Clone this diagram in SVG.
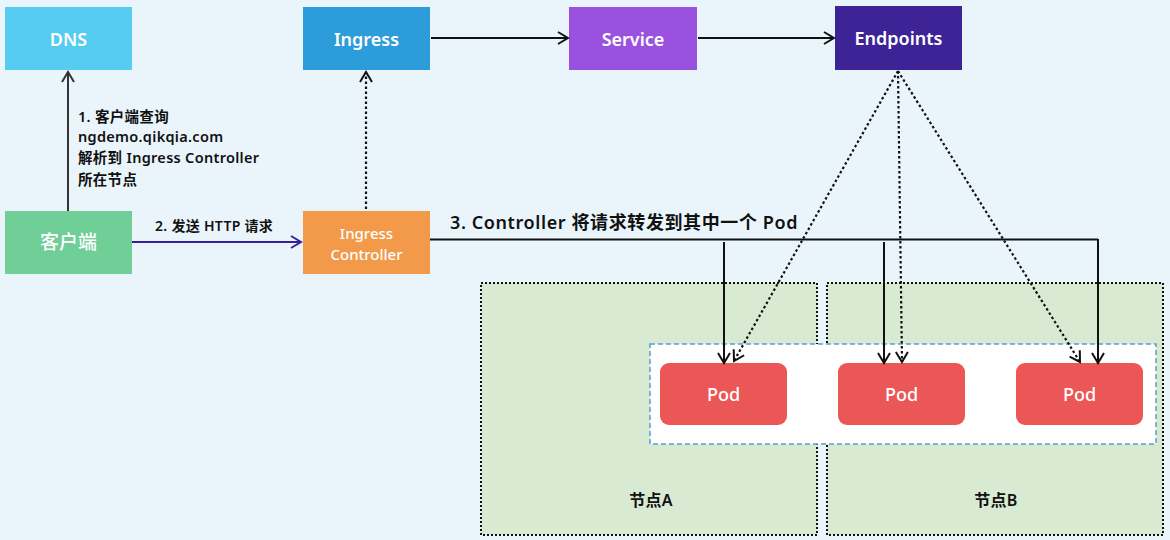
<svg xmlns="http://www.w3.org/2000/svg" width="1170" height="540" viewBox="0 0 1170 540">
<style>
text{font-family:"Noto Sans","Noto Sans CJK SC",sans-serif;}
.nt{fill:#fff;font-size:18px;font-weight:600;text-anchor:middle;dominant-baseline:central;}
.lb{fill:#111;font-size:14.5px;font-weight:600;letter-spacing:0.3px;}
.solid{stroke:#111;stroke-width:2;fill:none;}
.dot{stroke:#111;stroke-width:2.2;fill:none;stroke-dasharray:2.5 2.5;}
.zone{fill:#D9EAD3;stroke:#111;stroke-width:2;stroke-dasharray:2 2;}
</style>
<defs>
<marker id="ah" viewBox="0 0 14 14" refX="12" refY="7" markerWidth="14" markerHeight="14" markerUnits="userSpaceOnUse" orient="auto">
<path d="M2,1 L12,7 L2,13" fill="none" stroke="#111" stroke-width="2"/>
</marker>
<marker id="ahg" viewBox="0 0 14 14" refX="12" refY="7" markerWidth="14" markerHeight="14" markerUnits="userSpaceOnUse" orient="auto">
<path d="M2,1 L12,7 L2,13" fill="none" stroke="#333" stroke-width="2"/>
</marker>
<marker id="ahp" viewBox="0 0 14 14" refX="12" refY="7" markerWidth="14" markerHeight="14" markerUnits="userSpaceOnUse" orient="auto">
<path d="M2,1 L12,7 L2,13" fill="none" stroke="#3A1F9A" stroke-width="2"/>
</marker>
</defs>
<rect width="1170" height="540" fill="#EAF5FB"/>

<g id="nodeA"><rect class="zone" x="481" y="283" width="336" height="252"/><text x="651" y="500" class="lb" style="font-size:16px" text-anchor="middle" dominant-baseline="central">节点A</text></g>
<g id="nodeB"><rect class="zone" x="827" y="283" width="336" height="252"/><text x="996" y="500" class="lb" style="font-size:16px" text-anchor="middle" dominant-baseline="central">节点B</text></g>
<g id="podgroup"><rect x="650" y="344" width="506" height="100" fill="#fff" stroke="#5B9BD5" stroke-width="1.5" stroke-dasharray="5 3"/></g>

<g id="dns"><rect x="5" y="7" width="127" height="63" fill="#56CCF2"/><text class="nt" x="68.5" y="39">DNS</text></g>
<g id="ingress"><rect x="303" y="7" width="127" height="63" fill="#2D9CDB"/><text class="nt" x="366.5" y="39">Ingress</text></g>
<g id="service"><rect x="569" y="7" width="128" height="63" fill="#9B51E0"/><text class="nt" x="633" y="39">Service</text></g>
<g id="endpoints"><rect x="835" y="6" width="127" height="64" fill="#3D2396"/><text class="nt" x="898.5" y="38">Endpoints</text></g>
<g id="client"><rect x="5" y="211" width="127" height="63" fill="#6FCF97"/><text class="nt" x="68.5" y="242" style="font-size:19px;font-weight:500">客户端</text></g>
<g id="ingressController"><rect x="303" y="211" width="127" height="63" fill="#F2994A"/><text class="nt" x="366.5" y="233" style="font-size:15px;font-weight:500">Ingress</text><text class="nt" x="366.5" y="254" style="font-size:15px;font-weight:500">Controller</text></g>
<g id="pod1"><rect x="660" y="363" width="127" height="62" rx="9" fill="#EB5757"/><text class="nt" x="723.5" y="394" style="font-weight:500">Pod</text></g>
<g id="pod2"><rect x="838" y="363" width="127" height="62" rx="9" fill="#EB5757"/><text class="nt" x="901.5" y="394" style="font-weight:500">Pod</text></g>
<g id="pod3"><rect x="1016" y="363" width="127" height="62" rx="9" fill="#EB5757"/><text class="nt" x="1079.5" y="394" style="font-weight:500">Pod</text></g>

<g id="connectors">
<line x1="68" y1="211" x2="68" y2="72" stroke="#333" stroke-width="2" marker-end="url(#ahg)"/>
<line x1="132" y1="242" x2="301" y2="242" stroke="#3A1F9A" stroke-width="2" marker-end="url(#ahp)"/>
<line x1="366" y1="209" x2="366" y2="72" class="dot" marker-end="url(#ah)"/>
<line x1="431" y1="38" x2="568" y2="38" class="solid" marker-end="url(#ah)"/>
<line x1="698" y1="38" x2="834" y2="38" class="solid" marker-end="url(#ah)"/>
<polyline points="430,239.5 1098,239.5" class="solid"/>
<line x1="724" y1="242" x2="724" y2="363" class="solid" marker-end="url(#ah)"/>
<line x1="884" y1="242" x2="884" y2="363" class="solid" marker-end="url(#ah)"/>
<line x1="1098" y1="239" x2="1098" y2="363" class="solid" marker-end="url(#ah)"/>
<line x1="898" y1="71" x2="734" y2="361" class="dot" marker-end="url(#ah)"/>
<line x1="898" y1="71" x2="902" y2="362" class="dot" marker-end="url(#ah)"/>
<line x1="898" y1="71" x2="1080" y2="362" class="dot" marker-end="url(#ah)"/>
</g>

<g id="labels">
<text class="lb" x="78" y="122">1. 客户端查询</text>
<text class="lb" x="78" y="142">ngdemo.qikqia.com</text>
<text class="lb" x="78" y="163">解析到 Ingress Controller</text>
<text class="lb" x="78" y="185">所在节点</text>
<text class="lb" x="155" y="231" style="font-size:14px">2. 发送 HTTP 请求</text>
<text class="lb" x="450" y="229" style="font-size:18px;letter-spacing:0.6px">3. Controller 将请求转发到其中一个 Pod</text>
</g>
</svg>
